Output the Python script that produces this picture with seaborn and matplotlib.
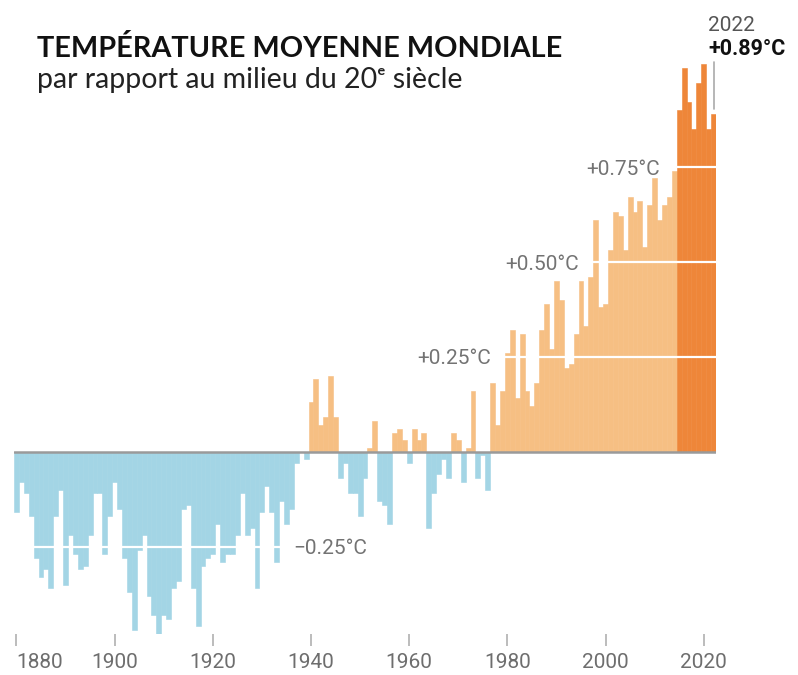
import numpy as np
import pandas as pd
import matplotlib
matplotlib.use("Agg")
import matplotlib.pyplot as plt
import seaborn as sns

# Global temperature anomaly (°C) vs mid-20th century
years = list(range(1880, 2023))
anom_1880s_90s = [-0.16, -0.08, -0.11, -0.17, -0.28, -0.33, -0.31, -0.36, -0.17, -0.10,
                  -0.35, -0.22, -0.27, -0.31, -0.30, -0.22, -0.11, -0.11, -0.27, -0.17]
anom_1900s_10s = [-0.08, -0.15, -0.28, -0.37, -0.47, -0.26, -0.22, -0.38, -0.43, -0.48,
                  -0.43, -0.44, -0.36, -0.34, -0.15, -0.14, -0.36, -0.46, -0.30, -0.28]
anom_1920s_30s = [-0.27, -0.19, -0.29, -0.27, -0.27, -0.22, -0.11, -0.22, -0.20, -0.36,
                  -0.16, -0.09, -0.16, -0.29, -0.13, -0.19, -0.15, -0.03, 0.00, -0.02]
anom_1940s_50s = [0.13, 0.19, 0.07, 0.09, 0.20, 0.09, -0.07, -0.03, -0.11, -0.11,
                  -0.17, -0.07, 0.01, 0.08, -0.13, -0.14, -0.19, 0.05, 0.06, 0.03]
anom_1960s_70s = [-0.03, 0.06, 0.03, 0.05, -0.20, -0.11, -0.06, -0.02, -0.07, 0.05,
                  0.03, -0.08, 0.01, 0.16, -0.07, -0.01, -0.10, 0.18, 0.07, 0.16]
anom_1980s_90s = [0.26, 0.32, 0.14, 0.31, 0.16, 0.12, 0.18, 0.32, 0.39, 0.27,
                  0.45, 0.40, 0.22, 0.23, 0.31, 0.45, 0.33, 0.46, 0.61, 0.38]
anom_2000s_20s = [0.39, 0.53, 0.63, 0.62, 0.53, 0.67, 0.63, 0.66, 0.54, 0.65,
                  0.72, 0.61, 0.65, 0.67, 0.74, 0.90, 1.01, 0.92, 0.85, 0.97,
                  1.02, 0.85, 0.89]
anomaly = (anom_1880s_90s + anom_1900s_10s + anom_1920s_30s + anom_1940s_50s
           + anom_1960s_70s + anom_1980s_90s + anom_2000s_20s)

tick_years = [1880, 1900, 1920, 1940, 1960, 1980, 2000, 2020]
grid_levels = [-0.25, 0.25, 0.50, 0.75]
grid_labels = ["\u22120.25°C", "+0.25°C", "+0.50°C", "+0.75°C"]
label_x = [1936.3, 1976.7, 1994.6, 2011.1]
label_ha = ["left", "right", "right", "right"]

palette = {"neg": "#a3d5e5", "pos": "#f6bf83", "recent": "#ee8639"}

df = pd.DataFrame({"year": years, "anomaly": anomaly})
df["group"] = np.where(df["year"] >= 2015, "recent",
                       np.where(df["anomaly"] < 0, "neg", "pos"))

sns.set_style("white")
plt.rcParams["font.family"] = ["Roboto", "DejaVu Sans"]

fig = plt.figure(figsize=(7.98, 6.75), dpi=100)
ax = fig.add_axes([14 / 798, 41 / 675, 702 / 798, 634 / 675])

sns.barplot(data=df, x="year", y="anomaly", hue="group", palette=palette,
            hue_order=["neg", "pos", "recent"], native_scale=True, width=1.0,
            dodge=False, errorbar=None, saturation=1, legend=False, ax=ax)
for p in ax.patches:
    p.set_edgecolor(p.get_facecolor())
    p.set_linewidth(0.4)

ax.set_xlim(1879.5, 2022.5)
ax.set_ylim(-0.48, 1.189)

# white reference lines over the bars, grey zero line
for lvl in grid_levels:
    ax.axhline(lvl, color="white", lw=1.6, zorder=3)
ax.axhline(0, color="#9a9a9a", lw=1.8, zorder=4)

for lvl, txt, xx, ha in zip(grid_levels, grid_labels, label_x, label_ha):
    ax.text(xx, lvl - 0.006, txt, ha=ha, va="center", fontsize=15, color="#737373")

# 2022 callout
val22 = anomaly[-1]
ax.plot([2022, 2022], [val22 + 0.013, val22 + 0.135], color="#aaaaaa", lw=1.2,
        zorder=4)
ax.text(2020.9, val22 + 0.218, "2022", ha="left", va="baseline", fontsize=15,
        color="#555555")
ax.text(2020.9, val22 + 0.155, "+0.89°C", ha="left", va="baseline", fontsize=15.5,
        color="#111111", fontweight="bold")

ax.set_xticks(tick_years)
ax.set_xticklabels([str(y) for y in tick_years])
ax.tick_params(axis="x", bottom=True, length=8.6, width=1.2, color="#b0b0b0",
               labelcolor="#6e6e6e", labelsize=15, pad=5)
ax.get_xticklabels()[0].set_ha("left")
ax.set_yticks([])
ax.set_xlabel("")
ax.set_ylabel("")
for side in ["top", "right", "left", "bottom"]:
    ax.spines[side].set_visible(False)

fig.text(37 / 798, 1 - 56.7 / 675, "TEMPÉRATURE MOYENNE MONDIALE",
         fontsize=20.8, fontweight="bold", family=["Lato", "DejaVu Sans"],
         color="#111111", va="baseline")
fig.text(37 / 798, 1 - 88 / 675, "par rapport au milieu du 20\u1d49 siècle",
         fontsize=20.5, family=["Lato", "DejaVu Sans"], color="#222222",
         va="baseline")

fig.savefig("out.png", dpi=100)
plt.close(fig)
